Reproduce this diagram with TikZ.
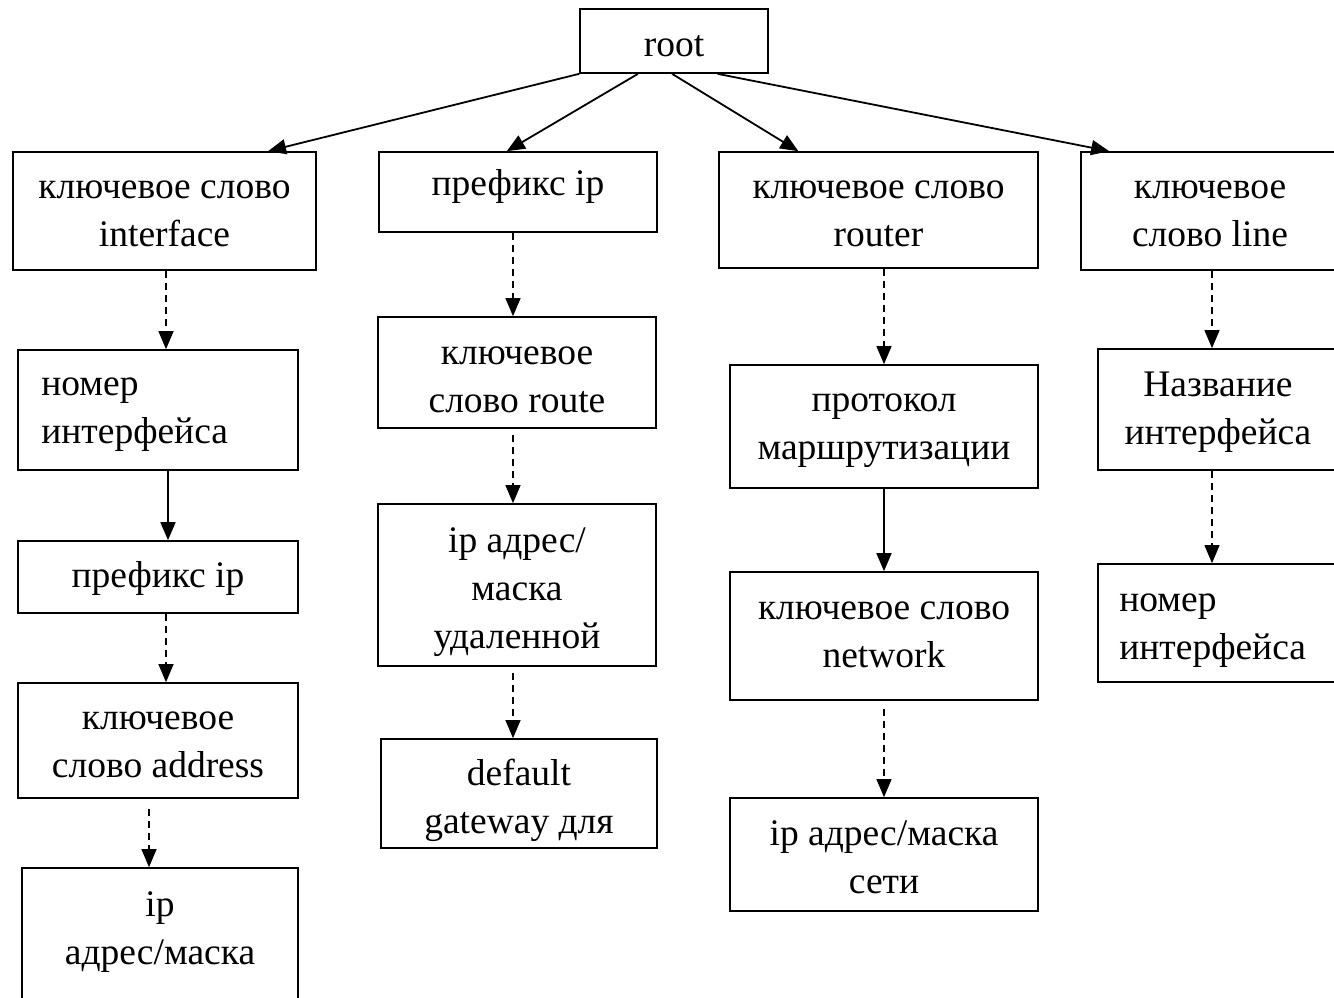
\documentclass[tikz,border=0pt]{standalone}
\usepackage{fontspec}
\setmainfont{Liberation Serif}
\usetikzlibrary{arrows.meta,calc}
\newcommand{\fsz}{\fontsize{37.5}{48}\selectfont}
\tikzset{
  box/.style={draw, line width=1.7pt, inner sep=0pt},
  txt/.style={inner sep=0pt, align=center, font=\fsz},
  ltxt/.style={inner sep=0pt, align=left, font=\fsz, anchor=west},
  arr/.style={line width=1.8pt, -{Triangle[length=18pt,width=15pt]}},
  darr/.style={line width=1.2pt, dash pattern=on 7pt off 5pt, -{Triangle[length=18pt,width=15pt]}},
}
\begin{document}
\begin{tikzpicture}[x=1pt,y=-1pt]
\useasboundingbox (0,0) rectangle (1334,998);
% top row
\node[box, minimum width=188pt, minimum height=64pt] (root) at (674,41) {};
\node[txt] (roott) at ($(root)+(0,5)$) {root};
\node[box, minimum width=303pt, minimum height=118pt] (b1) at (164.5,211) {};
\node[txt] (b1t) at ($(b1)+(0,2.5)$) {ключевое слово\\interface};
\node[box, minimum width=278pt, minimum height=80pt] (b2) at (518,192) {};
\node[txt] (b2t) at ($(b2)+(0,-6)$) {префикс ip};
\node[box, minimum width=319pt, minimum height=116pt] (b3) at (878.5,210) {};
\node[txt] (b3t) at ($(b3)+(0,3.5)$) {ключевое слово\\router};
\node[box, minimum width=262pt, minimum height=118pt] (b4) at (1212,211) {};
\node[txt] (b4t) at ($(b4)+(-2,2.5)$) {ключевое\\слово line};
% column 1
\node[box, minimum width=280pt, minimum height=120pt] (b5) at (158,410) {};
\node[ltxt] (b5t) at ($(b5.west)+(24,5)$) {номер\\интерфейса};
\node[box, minimum width=280pt, minimum height=72pt] (b6) at (158,577) {};
\node[txt] (b6t) at ($(b6)+(0,1)$) {префикс ip};
\node[box, minimum width=280pt, minimum height=115pt] (b7) at (158,740.5) {};
\node[txt] (b7t) at ($(b7)+(0,4.5)$) {ключевое\\слово address};
\node[box, minimum width=276pt, minimum height=134pt] (b8) at (160,935) {};
\node[txt] (b8t) at ($(b8)+(0,-3)$) {ip\\адрес/маска};
% column 2
\node[box, minimum width=278pt, minimum height=111pt] (b9) at (517,372.5) {};
\node[txt] (b9t) at ($(b9)+(0,7)$) {ключевое\\слово route};
\node[box, minimum width=278pt, minimum height=162pt] (b10) at (517,585) {};
\node[txt] (b10t) at ($(b10)+(0,7)$) {ip адрес/\\маска\\удаленной};
\node[box, minimum width=276pt, minimum height=109pt] (b11) at (519,793.5) {};
\begin{scope}
  \clip (b11.south west) rectangle (b11.north east);
  \node[txt] (b11t) at (519,800) {default\\gateway для};
\end{scope}
% column 3
\node[box, minimum width=308pt, minimum height=123pt] (b12) at (884,426.5) {};
\node[txt] (b12t) at ($(b12)+(0,4.5)$) {протокол\\маршрутизации};
\node[box, minimum width=308pt, minimum height=128pt] (b13) at (884,636) {};
\node[txt] (b13t) at ($(b13)+(0,-1.5)$) {ключевое слово\\network};
\node[box, minimum width=308pt, minimum height=113pt] (b14) at (884,854.5) {};
\node[txt] (b14t) at ($(b14)+(0,2.5)$) {ip адрес/маска\\сети};
% column 4
\node[box, minimum width=244pt, minimum height=121pt] (b15) at (1220,409.5) {};
\node[txt] (b15t) at ($(b15)+(-2,2.5)$) {Название\\интерфейса};
\node[box, minimum width=244pt, minimum height=118pt] (b16) at (1220,623) {};
\node[ltxt] (b16t) at ($(b16.west)+(22,7.5)$) {номер\\интерфейса};
% root connectors
\draw[arr] (root.south west) -- ($(b1.north west)!0.84!(b1.north east)$);
\draw[arr] ($(root.south west)!0.31!(root.south east)$) -- ($(b2.north west)!0.46!(b2.north east)$);
\draw[arr] ($(root.south west)!0.49!(root.south east)$) -- ($(b3.north west)!0.25!(b3.north east)$);
\draw[arr] ($(root.south west)!0.73!(root.south east)$) -- ($(b4.north west)!0.11!(b4.north east)$);
% column 1
\draw[darr] (b1.south -| 166,0) -- (b5.north -| 166,0);
\draw[arr] (b5.south -| 168,0) -- (b6.north -| 168,0);
\draw[darr] (b6.south -| 166,0) -- (b7.north -| 166,0);
\draw[darr] ($(b7.south -| 149,0)+(0,10)$) -- (b8.north -| 149,0);
% column 2
\draw[darr] (b2.south -| 513,0) -- (b9.north -| 513,0);
\draw[darr] ($(b9.south -| 513,0)+(0,6)$) -- (b10.north -| 513,0);
\draw[darr] ($(b10.south -| 513,0)+(0,6)$) -- (b11.north -| 513,0);
% column 3
\draw[darr] (b3.south -| 884,0) -- (b12.north -| 884,0);
\draw[arr] (b12.south -| 884,0) -- (b13.north -| 884,0);
\draw[darr] ($(b13.south -| 884,0)+(0,8)$) -- (b14.north -| 884,0);
% column 4
\draw[darr] (b4.south -| 1212,0) -- (b15.north -| 1212,0);
\draw[darr] (b15.south -| 1212,0) -- (b16.north -| 1212,0);
\end{tikzpicture}
\end{document}
